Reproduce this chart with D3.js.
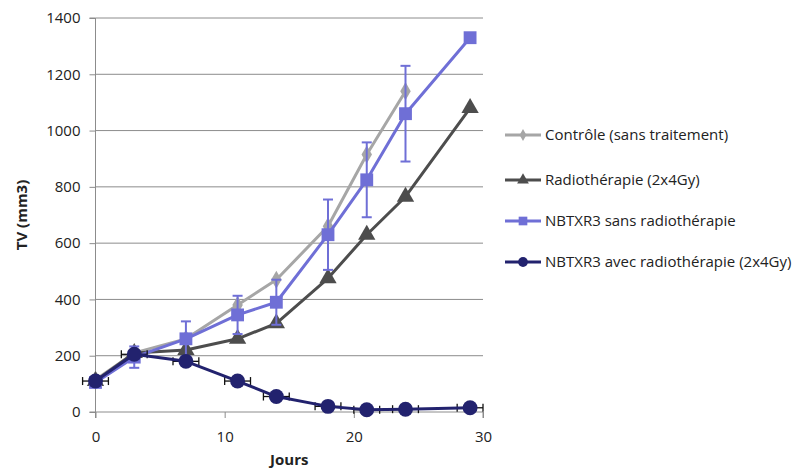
<!DOCTYPE html>
<html>
<head>
<meta charset="utf-8">
<script src="https://cdn.jsdelivr.net/npm/d3@7"></script>
<style>
  body { margin: 0; background: #fff; }
  svg text { font-family: "Open Sans", sans-serif; fill: #222; }
</style>
</head>
<body>
<div id="chart"></div>
<script>
// == DATA == //
const jours = [0, 3, 7, 11, 14, 18, 21, 24, 29];

const controle = [115, 210, 260, 380, 470, 660, 915, 1140];           // jusqu'au jour 24
const radio = [110, 210, 220, 260, 315, 475, 630, 765, 1080];
const nbtxr3 = [105, 195, 260, 345, 390, 630, 825, 1060, 1330];
const nbtxr3Err = [0, 38, 62, 68, 80, 125, 133, 170, 0];
const nbtxr3Radio = [110, 205, 180, 110, 55, 20, 8, 10, 15];
const nbtxr3RadioErrX = [1, 1, 1, 1, 1, 1, 1, 1, 1];

const yTicks = [0, 200, 400, 600, 800, 1000, 1200, 1400];
const xTicks = [0, 10, 20, 30];

const series = [
    {name: "Contrôle (sans traitement)", values: controle, color: "#a6a6a6", shape: "diamond"},
    {name: "Radiothérapie (2x4Gy)", values: radio, color: "#4d4d4d", shape: "triangle"},
    {name: "NBTXR3 sans radiothérapie", values: nbtxr3, color: "#6f6fd6", shape: "square", errY: nbtxr3Err},
    {name: "NBTXR3 avec radiothérapie (2x4Gy)", values: nbtxr3Radio, color: "#22226e", shape: "circle", errX: nbtxr3RadioErrX}
];

// == SVG == //
const width = 795, height = 471;
const margin = {top: 18, right: 312, bottom: 59, left: 95.5};

const svg = d3.select("#chart").append("svg")
    .attr("width", width)
    .attr("height", height);

const x = d3.scaleLinear().domain([0, 30]).range([margin.left, width - margin.right]);
const y = d3.scaleLinear().domain([0, 1400]).range([height - margin.bottom, margin.top]);

// gridlines
svg.append("g")
    .selectAll("line")
    .data(yTicks.slice(1))
    .enter().append("line")
    .attr("x1", x(0)).attr("x2", x(30))
    .attr("y1", d => y(d)).attr("y2", d => y(d))
    .attr("stroke", "#8c8c8c")
    .attr("stroke-width", 1);

// axes
const yAxis = svg.append("g")
    .attr("transform", `translate(${x(0)},0)`)
    .call(d3.axisLeft(y).tickValues(yTicks).tickFormat(d3.format("d")).tickSize(6).tickPadding(9));
const xAxis = svg.append("g")
    .attr("transform", `translate(0,${y(0)})`)
    .call(d3.axisBottom(x).tickValues(xTicks).tickFormat(d3.format("d")).tickSize(6).tickPadding(13));

[yAxis, xAxis].forEach(a => {
    a.select(".domain").attr("stroke", "#8c8c8c");
    a.selectAll(".tick line").attr("stroke", "#8c8c8c");
    a.selectAll("text").style("font-size", "15px").style("font-family", "Open Sans, sans-serif").attr("fill", "#222");
});
yAxis.select(".domain").attr("d", `M-6,${y(0)}H0V${y(1400)}H-6`);
xAxis.select(".domain").attr("d", `M${x(0)},6V0H${x(30)}V6`);

// axis titles
svg.append("text")
    .attr("x", (x(0) + x(30)) / 2)
    .attr("y", 465)
    .attr("text-anchor", "middle")
    .style("font-size", "15px")
    .style("font-weight", "bold")
    .text("Jours");

svg.append("text")
    .attr("transform", `translate(27,${(y(0) + y(1400)) / 2}) rotate(-90)`)
    .attr("text-anchor", "middle")
    .style("font-size", "15px")
    .style("font-weight", "bold")
    .text("TV (mm3)");

// markers
function marker(sel, shape, color, size) {
    const types = {diamond: d3.symbolDiamond, triangle: d3.symbolTriangle, square: d3.symbolSquare, circle: d3.symbolCircle};
    const sizes = {diamond: 95, triangle: 130, square: 165, circle: 175};
    sel.append("path")
        .attr("d", d3.symbol().type(types[shape]).size(size || sizes[shape]))
        .attr("fill", color);
}

const line = d3.line()
    .x((d, i) => x(jours[i]))
    .y(d => y(d));

const plot = svg.append("g");

series.forEach(s => {
    const g = plot.append("g");
    const pts = s.values.map((v, i) => ({x: jours[i], y: v, i: i}));

    // vertical error bars
    if (s.errY) {
        pts.forEach(p => {
            const e = s.errY[p.i];
            if (!e) return;
            g.append("line")
                .attr("x1", x(p.x)).attr("x2", x(p.x))
                .attr("y1", y(p.y - e)).attr("y2", y(p.y + e))
                .attr("stroke", s.color).attr("stroke-width", 2);
            [p.y - e, p.y + e].forEach(v => {
                g.append("line")
                    .attr("x1", x(p.x) - 5).attr("x2", x(p.x) + 5)
                    .attr("y1", y(v)).attr("y2", y(v))
                    .attr("stroke", s.color).attr("stroke-width", 2);
            });
        });
    }

    // horizontal error bars
    if (s.errX) {
        pts.forEach(p => {
            const e = s.errX[p.i];
            g.append("line")
                .attr("x1", x(p.x - e)).attr("x2", x(p.x + e))
                .attr("y1", y(p.y)).attr("y2", y(p.y))
                .attr("stroke", "#111").attr("stroke-width", 1.3);
            [p.x - e, p.x + e].forEach(v => {
                g.append("line")
                    .attr("x1", x(v)).attr("x2", x(v))
                    .attr("y1", y(p.y) - 4).attr("y2", y(p.y) + 4)
                    .attr("stroke", "#111").attr("stroke-width", 1.3);
            });
        });
    }

    g.append("path")
        .datum(s.values)
        .attr("d", line)
        .attr("fill", "none")
        .attr("stroke", s.color)
        .attr("stroke-width", 3)
        .attr("stroke-linejoin", "round");

    pts.forEach(p => {
        const m = g.append("g").attr("transform", `translate(${x(p.x)},${y(p.y)})`);
        marker(m, s.shape, s.color);
    });
});

// == LEGEND == //
const legend = svg.append("g").attr("class", "legend");
const legendY = [135, 180, 221, 262];

series.forEach((s, i) => {
    const lg = legend.append("g").attr("transform", `translate(505,${legendY[i]})`);
    lg.append("line")
        .attr("x1", 0).attr("x2", 36)
        .attr("stroke", s.color).attr("stroke-width", 3);
    const m = lg.append("g").attr("transform", "translate(18,0)");
    marker(m, s.shape, s.color, {diamond: 40, triangle: 60, square: 75, circle: 75}[s.shape]);
    lg.append("text")
        .attr("x", 40)
        .attr("y", 0)
        .attr("dy", "0.35em")
        .style("font-size", "15px")
        .text(s.name);
});
</script>
</body>
</html>
